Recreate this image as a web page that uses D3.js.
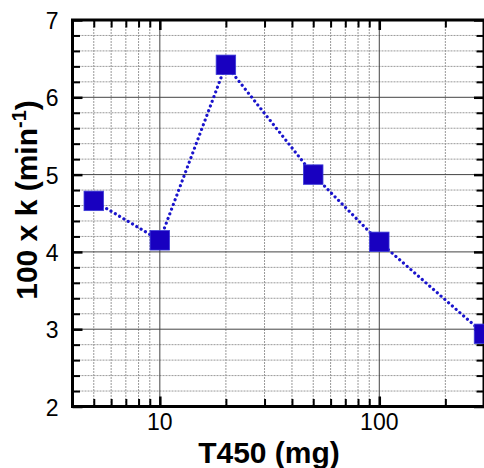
<!DOCTYPE html>
<html>
<head>
<meta charset="utf-8">
<script src="https://cdn.jsdelivr.net/npm/d3@7"></script>
<style>
  body { margin: 0; background: #fff; }
  text { font-family: "Liberation Sans", Arial, sans-serif; }
</style>
</head>
<body>
<div id="chart"></div>
<script>
// data
var doses = [5, 10, 20, 50, 100, 300];
var rates = [4.66, 4.15, 6.42, 5.0, 4.13, 2.94];
var xTickLabels = [10, 100];
var yTickLabels = [2, 3, 4, 5, 6, 7];

var svgWidth = 484;
var svgHeight = 468;

// plot box (note: "top" is taken by window.top, so use other names)
var plotLeft = 72.5, plotRight = 484, plotTop = 20, plotBottom = 406.5;

var svg = d3.select("#chart")
  .append("svg")
  .attr("width", svgWidth)
  .attr("height", svgHeight);

var xScale = d3.scaleLog()
  .domain([4, 300])
  .range([plotLeft, plotRight]);

var yScale = d3.scaleLinear()
  .domain([2, 7])
  .range([plotBottom, plotTop]);

var xAll = xScale.ticks().filter(function(d) { return d > 4 && d < 300; });
var xMinor = xAll.filter(function(d) { return xTickLabels.indexOf(d) < 0; });
var yAll = yScale.ticks(25);
var yMinor = yAll.filter(function(d) { return Math.abs(d - Math.round(d)) > 1e-6; });

//====== grid
var grid = svg.append("g");
grid.selectAll(".xminor").data(xMinor).enter().append("line")
  .attr("x1", d => xScale(d)).attr("x2", d => xScale(d))
  .attr("y1", plotTop).attr("y2", plotBottom)
  .attr("stroke", "#999").attr("stroke-width", 1).attr("stroke-dasharray", "2,1");
grid.selectAll(".yminor").data(yMinor).enter().append("line")
  .attr("y1", d => yScale(d)).attr("y2", d => yScale(d))
  .attr("x1", plotLeft).attr("x2", plotRight)
  .attr("stroke", "#999").attr("stroke-width", 1).attr("stroke-dasharray", "2,1");
grid.selectAll(".xmajor").data(xTickLabels).enter().append("line")
  .attr("x1", d => xScale(d)).attr("x2", d => xScale(d))
  .attr("y1", plotTop).attr("y2", plotBottom)
  .attr("stroke", "#444").attr("stroke-width", 1);
grid.selectAll(".ymajor").data(yTickLabels.slice(1, -1)).enter().append("line")
  .attr("y1", d => yScale(d)).attr("y2", d => yScale(d))
  .attr("x1", plotLeft).attr("x2", plotRight)
  .attr("stroke", "#444").attr("stroke-width", 1);

//====== axes (ticks inward, on all four sides)
function tickAxis(axis, len, w) {
  return function(g) {
    g.call(axis.tickSizeInner(len).tickSizeOuter(0).tickFormat(""));
    g.select(".domain").remove();
    g.selectAll(".tick line").attr("stroke", "#000").attr("stroke-width", w);
  };
}
svg.append("g").attr("transform", "translate(0," + plotBottom + ")")
  .call(tickAxis(d3.axisTop(xScale).tickValues(xMinor), 7.5, 2));
svg.append("g").attr("transform", "translate(0," + plotTop + ")")
  .call(tickAxis(d3.axisBottom(xScale).tickValues(xMinor), 7.5, 2));
svg.append("g").attr("transform", "translate(0," + plotBottom + ")")
  .call(tickAxis(d3.axisTop(xScale).tickValues(xTickLabels), 10, 2.5));
svg.append("g").attr("transform", "translate(0," + plotTop + ")")
  .call(tickAxis(d3.axisBottom(xScale).tickValues(xTickLabels), 10, 2.5));
svg.append("g").attr("transform", "translate(" + plotLeft + ",0)")
  .call(tickAxis(d3.axisRight(yScale).tickValues(yMinor), 7.5, 2));
svg.append("g").attr("transform", "translate(" + plotRight + ",0)")
  .call(tickAxis(d3.axisLeft(yScale).tickValues(yMinor), 7.5, 2));
svg.append("g").attr("transform", "translate(" + plotLeft + ",0)")
  .call(tickAxis(d3.axisRight(yScale).tickValues(yTickLabels), 10, 2.5));
svg.append("g").attr("transform", "translate(" + plotRight + ",0)")
  .call(tickAxis(d3.axisLeft(yScale).tickValues(yTickLabels), 10, 2.5));

// frame
svg.append("rect")
  .attr("x", plotLeft).attr("y", plotTop)
  .attr("width", plotRight - plotLeft).attr("height", plotBottom - plotTop)
  .attr("fill", "none").attr("stroke", "#000").attr("stroke-width", 3);

// tick labels
svg.selectAll(".xlab").data(xTickLabels).enter().append("text")
  .attr("x", d => xScale(d)).attr("y", plotBottom + 23)
  .attr("text-anchor", "middle").attr("font-size", 23)
  .text(d => d);
svg.selectAll(".ylab").data(yTickLabels).enter().append("text")
  .attr("x", plotLeft - 14).attr("y", d => yScale(d) + 9)
  .attr("text-anchor", "end").attr("font-size", 23)
  .text(d => d);

// axis titles
svg.append("text")
  .attr("x", 269).attr("y", 463)
  .attr("text-anchor", "middle").attr("font-size", 30).attr("font-weight", "bold")
  .text("T450 (mg)");

var yt = svg.append("text")
  .attr("transform", "translate(37,200) rotate(-90)")
  .attr("text-anchor", "middle").attr("font-size", 30).attr("font-weight", "bold");
yt.append("tspan").text("100 x k (min");
yt.append("tspan").attr("font-size", 20).attr("dy", -11).text("-1");
yt.append("tspan").attr("dy", 11).text(")");

//====== series
var pts = doses.map(function(d, i) { return [d, rates[i]]; });

var line = d3.line()
  .x(d => xScale(d[0]))
  .y(d => yScale(d[1]));

svg.append("path")
  .datum(pts)
  .attr("d", line)
  .attr("fill", "none")
  .attr("stroke", "#1a14cc")
  .attr("stroke-width", 3.2)
  .attr("stroke-linecap", "round")
  .attr("stroke-dasharray", "0.01,5");

var s = 19.5;
svg.selectAll(".marker").data(pts).enter().append("rect")
  .attr("x", d => xScale(d[0]) - s / 2)
  .attr("y", d => yScale(d[1]) - s / 2)
  .attr("width", s).attr("height", s)
  .attr("fill", "#1800c0")
  .attr("stroke", "#3c3cd8").attr("stroke-width", 0.8);
</script>
</body>
</html>
